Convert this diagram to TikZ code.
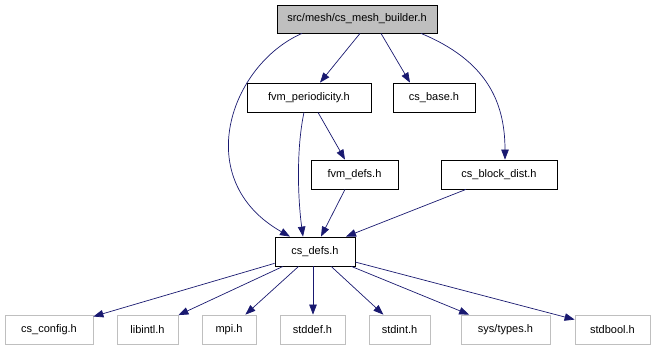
\documentclass[tikz,border=0pt]{standalone}
\usepackage{fontspec}
\setmainfont{Liberation Sans}
\usetikzlibrary{arrows.meta}
\definecolor{edgeblue}{HTML}{191970}
\definecolor{boxgray}{HTML}{BFBFBF}
\begin{document}
\begin{tikzpicture}[x=1pt,y=-1pt,
  hdr/.style={draw=black,line width=0.8pt,minimum height=29pt,inner sep=0pt,font=\fontsize{11}{13}\selectfont},
  sys/.style={draw=boxgray,line width=0.8pt,minimum height=29pt,inner sep=0pt,font=\fontsize{11}{13}\selectfont},
  dep/.style={draw=edgeblue,line width=0.7pt,-{Triangle[length=10pt,width=7.5pt]}}]
\useasboundingbox (0,0) rectangle (656,349);
% header files of the project
\node[hdr,fill=boxgray,minimum width=160pt,minimum height=28pt] (top) at (357,19) {src/mesh/cs\_mesh\_builder.h};
\node[hdr,minimum width=124pt] (fvmp) at (309,97.5) {fvm\_periodicity.h};
\node[hdr,minimum width=82pt] (base) at (434,97.5) {cs\_base.h};
\node[hdr,minimum width=87pt] (fvmdefs) at (354.5,174.5) {fvm\_defs.h};
\node[hdr,minimum width=116pt] (block) at (499,174.5) {cs\_block\_dist.h};
\node[hdr,minimum width=80pt] (defs) at (315,251.5) {cs\_defs.h};
% system and configuration headers
\node[sys,minimum width=88pt] (config) at (49,329.5) {cs\_config.h};
\node[sys,minimum width=61pt] (libintl) at (147.5,329.5) {libintl.h};
\node[sys,minimum width=54pt] (mpi) at (229,329.5) {mpi.h};
\node[sys,minimum width=65pt] (stddef) at (312.5,329.5) {stddef.h};
\node[sys,minimum width=61pt] (stdint) at (399.5,329.5) {stdint.h};
\node[sys,minimum width=89pt] (systypes) at (505.5,329.5) {sys/types.h};
\node[sys,minimum width=75pt] (stdbool) at (612.5,329.5) {stdbool.h};
% include edges
\draw[dep] (top.south -| 360,0) -- (fvmp.north -| 320,0);
\draw[dep] (top.south -| 381,0) -- (base.north -| 410,0);
\draw[dep] (top.south -| 421,0) .. controls (485,60) and (505,100) .. (block.north -| 505,0);
\draw[dep] (top.south -| 302,0) .. controls (230,65) and (190,180) .. (defs.north -| 290,0);
\draw[dep] (fvmp.south -| 318,0) -- (fvmdefs.north -| 345,0);
\draw[dep] (fvmp.south -| 304,0) .. controls (296,150) and (298,200) .. (defs.north -| 303,0);
\draw[dep] (fvmdefs.south -| 345,0) -- (defs.north -| 321,0);
\draw[dep] (block.south -| 466,0) -- (defs.north -| 346,0);
\draw[dep] (defs) -- (config);
\draw[dep] (defs) -- (libintl);
\draw[dep] (defs) -- (mpi);
\draw[dep] (defs.south -| 313,0) -- (stddef.north -| 313,0);
\draw[dep] (defs) -- (stdint);
\draw[dep] (defs) -- (systypes);
\draw[dep] (defs) -- (stdbool);
\end{tikzpicture}
\end{document}
